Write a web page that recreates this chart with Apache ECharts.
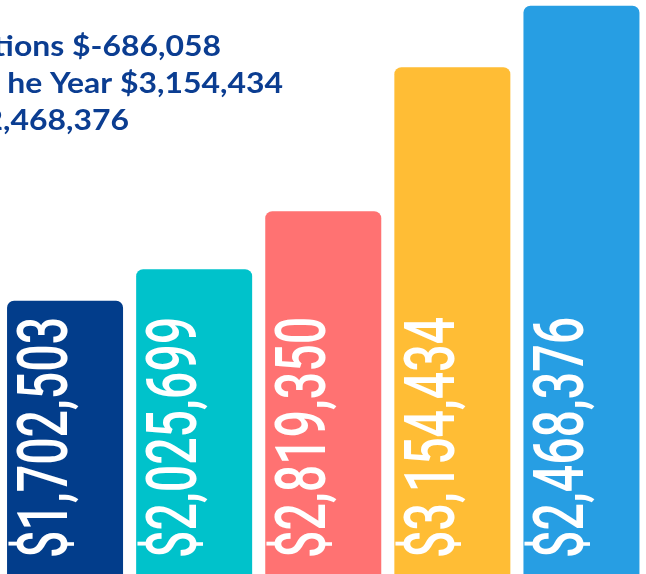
<!DOCTYPE html>
<html>
<head>
<meta charset="utf-8">
<script src="https://cdn.jsdelivr.net/npm/echarts@6/dist/echarts.min.js"></script>
<style>
html,body{margin:0;padding:0;background:#fff;}
#chart{width:646px;height:574px;}
</style>
</head>
<body>
<div id="chart"></div>
<script>
// Categories (one per bar)
var categories = ['A', 'B', 'C', 'D', 'E'];
// Relative bar heights as drawn in the picture (not proportional to the labels)
var barHeights = [47.6, 53.1, 63.2, 88.3, 99];
// Dollar values printed inside the bars
var barValues = [1702503, 2025699, 2819350, 3154434, 2468376];
// Summary lines at top-left (cropped in the reference)
var summaryLines = ['tions $-686,058', 'he Year $3,154,434', '2,468,376'];
var barColors = ['#023d8b', '#00c2cb', '#ff7272', '#ffbd35', '#279ee3'];

function money(v) {
  return '$' + v.toLocaleString('en-US');
}

var chart = echarts.init(document.getElementById('chart'));
var summaryRight = [221, 283, 129];
var summaryBase = [61, 98, 134.5];

chart.setOption({
  animation: false,
  grid: { left: 0.5, right: -2, top: 0, bottom: 0, containLabel: false },
  xAxis: {
    type: 'category',
    data: categories,
    show: false
  },
  yAxis: {
    type: 'value',
    min: 0,
    max: 100,
    show: false
  },
  graphic: summaryLines.map(function (t, i) {
    return {
      type: 'text',
      x: summaryRight[i],
      y: summaryBase[i],
      scaleX: 1.14,
      style: {
        text: t,
        fill: '#0b3d91',
        font: 'bold 28px Lato',
        textAlign: 'right',
        textVerticalAlign: 'bottom'
      }
    };
  }),
  series: [
    {
      type: 'bar',
      barWidth: 116,
      data: barHeights.map(function (h, i) {
        return { value: h, itemStyle: { color: barColors[i] } };
      }),
      itemStyle: { borderRadius: [7, 7, 0, 0] }
    },
    {
      type: 'custom',
      data: barValues.map(function (v, i) { return [i, v]; }),
      renderItem: function (params, api) {
        var p = api.coord([api.value(0), 0]);
        return {
          type: 'text',
          x: p[0] - 16,
          y: p[1] - 16,
          rotation: Math.PI / 2,
          scaleX: 0.69,
          style: {
            text: money(api.value(1)),
            fill: '#ffffff',
            fontSize: 70,
            fontWeight: 500,
            fontFamily: 'Roboto',
            textAlign: 'left',
            textVerticalAlign: 'middle'
          }
        };
      },
      z: 10
    }
  ]
});
</script>
</body>
</html>
